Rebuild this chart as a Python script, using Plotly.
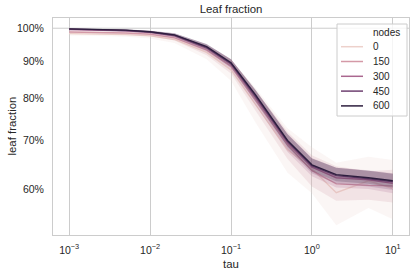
import numpy as np
import plotly.graph_objects as go

# ---------------- data ----------------
tau = [0.001, 0.002, 0.005, 0.01, 0.02, 0.05, 0.1, 0.2, 0.5, 1, 2, 5, 10]
nodes = [0, 150, 300, 450, 600]

mean_0 = [0.983, 0.982, 0.980, 0.976, 0.965, 0.926, 0.876, 0.785, 0.680, 0.640, 0.593, 0.616, 0.601]
lo_0 = [0.977, 0.976, 0.973, 0.968, 0.954, 0.906, 0.846, 0.742, 0.632, 0.592, 0.535, 0.565, 0.545]
hi_0 = [0.989, 0.988, 0.987, 0.984, 0.976, 0.945, 0.905, 0.828, 0.728, 0.685, 0.652, 0.665, 0.658]

mean_150 = [0.988, 0.987, 0.985, 0.981, 0.970, 0.933, 0.886, 0.796, 0.690, 0.636, 0.610, 0.607, 0.606]
lo_150 = [0.984, 0.983, 0.980, 0.975, 0.962, 0.918, 0.866, 0.770, 0.660, 0.605, 0.578, 0.580, 0.575]
hi_150 = [0.992, 0.991, 0.990, 0.987, 0.978, 0.948, 0.906, 0.822, 0.720, 0.668, 0.645, 0.635, 0.638]

mean_300 = [0.996, 0.995, 0.992, 0.987, 0.976, 0.939, 0.892, 0.803, 0.695, 0.643, 0.622, 0.618, 0.611]
lo_300 = [0.993, 0.992, 0.988, 0.982, 0.969, 0.928, 0.878, 0.785, 0.675, 0.625, 0.603, 0.600, 0.592]
hi_300 = [0.999, 0.998, 0.996, 0.992, 0.983, 0.950, 0.906, 0.821, 0.715, 0.662, 0.642, 0.637, 0.631]

mean_450 = [0.997, 0.996, 0.993, 0.988, 0.978, 0.941, 0.894, 0.807, 0.698, 0.646, 0.626, 0.620, 0.614]
lo_450 = [0.995, 0.994, 0.990, 0.984, 0.972, 0.932, 0.882, 0.792, 0.682, 0.631, 0.610, 0.605, 0.598]
hi_450 = [0.999, 0.998, 0.996, 0.992, 0.984, 0.950, 0.906, 0.822, 0.714, 0.661, 0.642, 0.636, 0.630]

mean_600 = [0.998, 0.997, 0.994, 0.989, 0.979, 0.943, 0.896, 0.810, 0.700, 0.648, 0.628, 0.622, 0.616]
lo_600 = [0.996, 0.995, 0.992, 0.986, 0.974, 0.935, 0.886, 0.797, 0.686, 0.635, 0.615, 0.610, 0.603]
hi_600 = [1.000, 0.999, 0.997, 0.992, 0.984, 0.951, 0.906, 0.823, 0.714, 0.661, 0.642, 0.636, 0.630]

x_tickvals = [0.001, 0.01, 0.1, 1, 10]
x_ticktext = ["10<sup>\u22123</sup>", "10<sup>\u22122</sup>", "10<sup>\u22121</sup>", "10<sup>0</sup>", "10<sup>1</sup>"]
y_tickvals = [0.6, 0.7, 0.8, 0.9, 1.0]
y_ticktext = ["60%", "70%", "80%", "90%", "100%"]

series = [
    (mean_0, lo_0, hi_0),
    (mean_150, lo_150, hi_150),
    (mean_300, lo_300, hi_300),
    (mean_450, lo_450, hi_450),
    (mean_600, lo_600, hi_600),
]

# ---------------- style: seaborn default cubehelix ----------------
def cubehelix(x, start=0.0, rot=0.4, gamma=1.0, hue=0.8):
    xg = x ** gamma
    a = hue * xg * (1 - xg) / 2
    phi = 2 * np.pi * (start / 3 + rot * x)
    r = xg + a * (-0.14861 * np.cos(phi) + 1.78277 * np.sin(phi))
    g = xg + a * (-0.29227 * np.cos(phi) - 0.90649 * np.sin(phi))
    b = xg + a * (1.97294 * np.cos(phi))
    return [int(round(255 * min(max(c, 0), 1))) for c in (r, g, b)]

vmin, vmax = min(nodes), max(nodes)
colors = []
for n in nodes:
    v = (n - vmin) / (vmax - vmin)
    colors.append(cubehelix(0.85 - 0.7 * v))

FONT = "Liberation Sans, Arial, sans-serif"
TXT = "#262626"
GRID = "#cccccc"

fig = go.Figure()
for n, (m, lo, hi), c in zip(nodes, series, colors):
    fig.add_trace(go.Scatter(
        x=tau + tau[::-1], y=hi + lo[::-1], fill="toself",
        fillcolor=f"rgba({c[0]},{c[1]},{c[2]},0.2)", line=dict(width=0),
        hoverinfo="skip", showlegend=False))
    fig.add_trace(go.Scatter(
        x=tau, y=m, mode="lines", name=str(n),
        line=dict(color=f"rgb({c[0]},{c[1]},{c[2]})", width=1.4),
        showlegend=False))

# horizontal major gridline at 100%
fig.add_shape(type="line", xref="paper", x0=0, x1=1, yref="y", y0=1.0, y1=1.0,
              line=dict(color=GRID, width=1), layer="below")

# ---------------- layout geometry ----------------
W, H = 415, 276
L, R, T, B = 53, 6, 18, 41
pw, ph = W - L - R, H - T - B
def px(x):
    return (x - L) / pw
def py(y):
    return (H - B - y) / ph

# ---------------- manual legend (matplotlib-like compact) ----------------
fig.add_shape(type="rect", xref="paper", yref="paper",
              x0=px(337), x1=px(407), y0=py(116), y1=py(24),
              fillcolor="rgba(255,255,255,0.8)", line=dict(color=GRID, width=1), layer="above")
fig.add_annotation(xref="paper", yref="paper", x=px(371), y=py(32.7), text="nodes",
                   showarrow=False, xanchor="left", yanchor="middle",
                   font=dict(family=FONT, size=10, color=TXT))
for i, (n, c) in enumerate(zip(nodes, colors)):
    yy = 46.7 + i * 14.8
    fig.add_shape(type="line", xref="paper", yref="paper", x0=px(341), x1=px(363),
                  y0=py(yy), y1=py(yy), line=dict(color=f"rgb({c[0]},{c[1]},{c[2]})", width=1.5),
                  layer="above")
    fig.add_annotation(xref="paper", yref="paper", x=px(371), y=py(yy), text=str(n),
                       showarrow=False, xanchor="left", yanchor="middle",
                       font=dict(family=FONT, size=10, color=TXT))

# axis titles as annotations for precise placement
fig.add_annotation(xref="paper", yref="paper", x=0.5, y=py(264), text="tau",
                   showarrow=False, xanchor="center", yanchor="middle",
                   font=dict(family=FONT, size=11.4, color=TXT))
fig.add_annotation(xref="paper", yref="paper", x=px(11), y=0.5, text="leaf fraction",
                   textangle=-90, showarrow=False, xanchor="center", yanchor="middle",
                   font=dict(family=FONT, size=11.4, color=TXT))

fig.update_layout(
    width=W, height=H,
    margin=dict(l=L, r=R, t=T, b=B, autoexpand=False),
    paper_bgcolor="white", plot_bgcolor="white",
    font=dict(family=FONT, color=TXT),
    title=dict(text="Leaf fraction", x=(L + pw / 2) / W, xanchor="center",
               y=1 - 9.5 / H, yanchor="middle", yref="container",
               font=dict(family=FONT, size=11.4, color=TXT)),
    showlegend=False,
)
fig.update_xaxes(
    type="log", range=[-3.2, 1.2], automargin=False,
    tickvals=x_tickvals, ticktext=x_ticktext,
    tickfont=dict(family=FONT, size=10.5, color=TXT),
    showgrid=True, gridcolor=GRID, gridwidth=1, zeroline=False,
    showline=True, mirror=True, linecolor=GRID, linewidth=1,
    ticks="", ticklabelstandoff=5,
)
fig.update_yaxes(
    type="log", range=[np.log10(0.5185), np.log10(1.033)], automargin=False,
    tickvals=y_tickvals, ticktext=y_ticktext,
    tickfont=dict(family=FONT, size=10.5, color=TXT),
    showgrid=False, zeroline=False,
    showline=True, mirror=True, linecolor=GRID, linewidth=1,
    ticks="", ticklabelstandoff=6,
)

fig.write_html("out.html", config={"displayModeBar": False},
               post_script="document.body.style.margin='0';document.body.style.padding='0';")
